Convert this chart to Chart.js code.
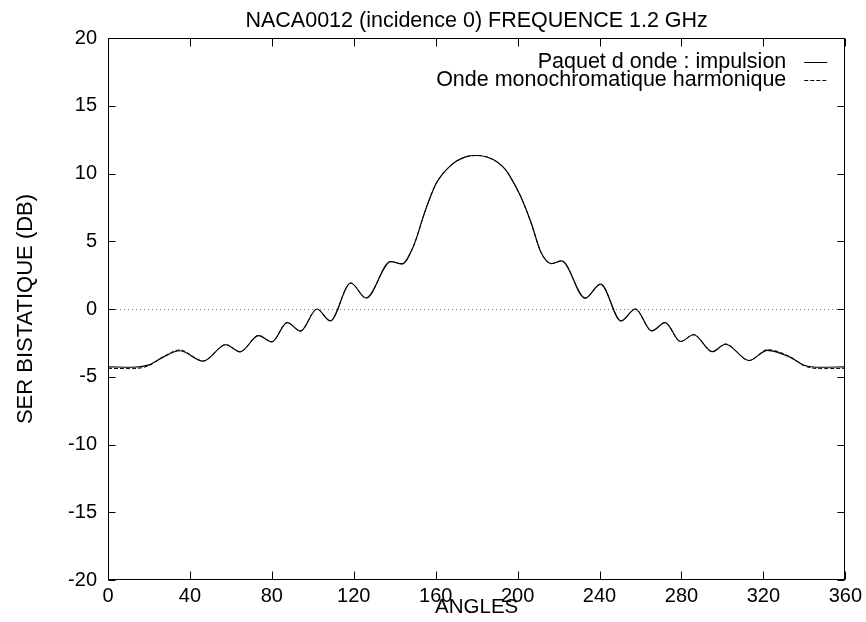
<!DOCTYPE html>
<html>
<head>
<meta charset="utf-8">
<title>NACA0012 - SER bistatique</title>
<script src="https://cdn.jsdelivr.net/npm/chart.js@4.4.0/dist/chart.umd.min.js"></script>
<style>
  body { margin: 0; background: #fff; }
</style>
</head>
<body>
<canvas id="ser" width="866" height="622"></canvas>
<script>
  // angles (deg), mostly at the bumps
  var angles = [0, 12, 20, 27, 35, 46.5, 57.5, 64.5, 73.5, 80, 87.5, 94, 102, 108.5,
    118.5, 126, 138, 143.5, 149, 155, 160, 163, 166, 170, 175, 180, 185, 190, 194, 197, 201.5, 206.5,
    211.5, 216.5, 221.5, 233, 240.5, 250.5, 257.5, 265.5, 272, 279.5, 286, 295,
    301.5, 313, 322, 333, 340, 348, 360];
  // Paquet d onde : impulsion
  var impulsion = [-4.27, -4.3, -4.12, -3.55, -3.08, -3.84, -2.64, -3.16, -1.97, -2.42, -1.01, -1.63, 0.0, -0.88,
    1.92, 0.81, 3.5, 3.33, 4.58, 7.3, 9.2, 9.9, 10.4, 10.9, 11.25, 11.33, 11.22, 10.85, 10.3, 9.6, 8.3, 6.4,
    4.15, 3.35, 3.55, 0.8, 1.84, -0.88, 0.0, -1.62, -1.0, -2.4, -1.9, -3.15,
    -2.6, -3.8, -3.05, -3.55, -4.15, -4.3, -4.27];
  // Onde monochromatique harmonique
  var harmonique = [-4.38, -4.4, -4.18, -3.52, -3.02, -3.84, -2.62, -3.16, -1.95, -2.42, -1.0, -1.63, 0.0, -0.88,
    1.92, 0.81, 3.5, 3.33, 4.58, 7.3, 9.2, 9.9, 10.4, 10.9, 11.25, 11.33, 11.22, 10.85, 10.3, 9.6, 8.3, 6.4,
    4.15, 3.35, 3.55, 0.8, 1.84, -0.88, 0.0, -1.62, -1.0, -2.4, -1.88, -3.15,
    -2.58, -3.8, -3.0, -3.52, -4.2, -4.4, -4.38];
  var xTicks = [0, 40, 80, 120, 160, 200, 240, 280, 320, 360];
  var yTicks = [-20, -15, -10, -5, 0, 5, 10, 15, 20];

  var titre = 'NACA0012 (incidence 0) FREQUENCE 1.2 GHz';
  var legende = ['Paquet d onde : impulsion', 'Onde monochromatique harmonique'];

  function pts(vals) {
    return angles.map(function (a, i) { return {x: a, y: vals[i]}; });
  }

  // gnuplot look: box, inward mirrored ticks, zero axis, title, legend
  var gnuplotFrame = {
    id: 'gnuplotFrame',
    beforeDatasetsDraw: function (chart) {
      var ctx = chart.ctx, a = chart.chartArea;
      var y0 = Math.round(chart.scales.y.getPixelForValue(0)) + 0.5;
      ctx.save();
      ctx.strokeStyle = '#777';
      ctx.lineWidth = 1;
      ctx.setLineDash([1, 3]);
      ctx.beginPath();
      ctx.moveTo(a.left, y0);
      ctx.lineTo(a.right, y0);
      ctx.stroke();
      ctx.restore();
    },
    afterDraw: function (chart) {
      var ctx = chart.ctx, a = chart.chartArea;
      var sx = chart.scales.x, sy = chart.scales.y;
      var L = Math.round(a.left) + 0.5, R = Math.round(a.right) - 0.5;
      var T = Math.round(a.top) + 0.5, B = Math.round(a.bottom) - 0.5;
      ctx.save();
      ctx.strokeStyle = '#000';
      ctx.lineWidth = 1;
      ctx.setLineDash([]);
      ctx.strokeRect(L, T, R - L, B - T);
      ctx.beginPath();
      xTicks.forEach(function (v) {
        var px = Math.round(sx.getPixelForValue(v)) + 0.5;
        ctx.moveTo(px, B); ctx.lineTo(px, B - 8);
        ctx.moveTo(px, T); ctx.lineTo(px, T + 8);
      });
      yTicks.forEach(function (v) {
        var py = Math.round(sy.getPixelForValue(v)) + 0.5;
        ctx.moveTo(L, py); ctx.lineTo(L + 7, py);
        ctx.moveTo(R, py); ctx.lineTo(R - 7, py);
      });
      ctx.stroke();

      ctx.fillStyle = '#000';
      ctx.font = '21.5px "Liberation Sans", Arial, sans-serif';
      ctx.textAlign = 'center';
      ctx.textBaseline = 'middle';
      ctx.fillText(titre, (a.left + a.right) / 2, 21);

      // legend, top right inside the box
      ctx.textAlign = 'right';
      var rows = [a.top + 24, a.top + 42];
      ctx.fillText(legende[0], a.right - 59, rows[0]);
      ctx.fillText(legende[1], a.right - 59, rows[1]);
      ctx.beginPath();
      ctx.moveTo(a.right - 41, Math.round(rows[0]) + 0.5);
      ctx.lineTo(a.right - 18, Math.round(rows[0]) + 0.5);
      ctx.stroke();
      ctx.setLineDash([4, 2]);
      ctx.beginPath();
      ctx.moveTo(a.right - 41, Math.round(rows[1]) + 0.5);
      ctx.lineTo(a.right - 18, Math.round(rows[1]) + 0.5);
      ctx.stroke();
      ctx.restore();
    }
  };

  var tickFont = {family: '"Liberation Sans", Arial, sans-serif', size: 20};

  new Chart(document.getElementById('ser'), {
    type: 'line',
    data: {
      datasets: [{
        label: legende[0],
        data: pts(impulsion),
        borderColor: '#000',
        borderWidth: 1.2,
        pointRadius: 0,
        cubicInterpolationMode: 'monotone',
        fill: false
      }, {
        label: legende[1],
        data: pts(harmonique),
        borderColor: '#000',
        borderWidth: 1,
        borderDash: [4, 2],
        pointRadius: 0,
        cubicInterpolationMode: 'monotone',
        fill: false
      }]
    },
    options: {
      responsive: false,
      animation: false,
      devicePixelRatio: 1,
      layout: {padding: {top: 38, right: 18, left: 0, bottom: 0}},
      plugins: {legend: {display: false}, tooltip: {enabled: false}, title: {display: false}},
      scales: {
        x: {
          type: 'linear', min: 0, max: 360,
          afterFit: function (s) { s.height = 42; },
          afterBuildTicks: function (s) { s.ticks = xTicks.map(function (v) { return {value: v}; }); },
          grid: {display: false, drawTicks: false},
          border: {display: false},
          ticks: {color: '#000', font: tickFont, padding: 4, maxRotation: 0},
          title: {display: true, text: 'ANGLES', color: '#000', font: {family: tickFont.family, size: 20.5}, padding: {top: 0, bottom: 2}}
        },
        y: {
          min: -20, max: 20,
          afterFit: function (s) { s.width = 108; },
          afterBuildTicks: function (s) { s.ticks = yTicks.map(function (v) { return {value: v}; }); },
          grid: {display: false, drawTicks: false},
          border: {display: false},
          ticks: {color: '#000', font: tickFont, padding: 11},
          title: {display: true, text: 'SER BISTATIQUE (DB)', color: '#000', font: {family: tickFont.family, size: 22}, padding: {top: 13, bottom: 0}}
        }
      }
    },
    plugins: [gnuplotFrame]
  });
</script>
</body>
</html>
